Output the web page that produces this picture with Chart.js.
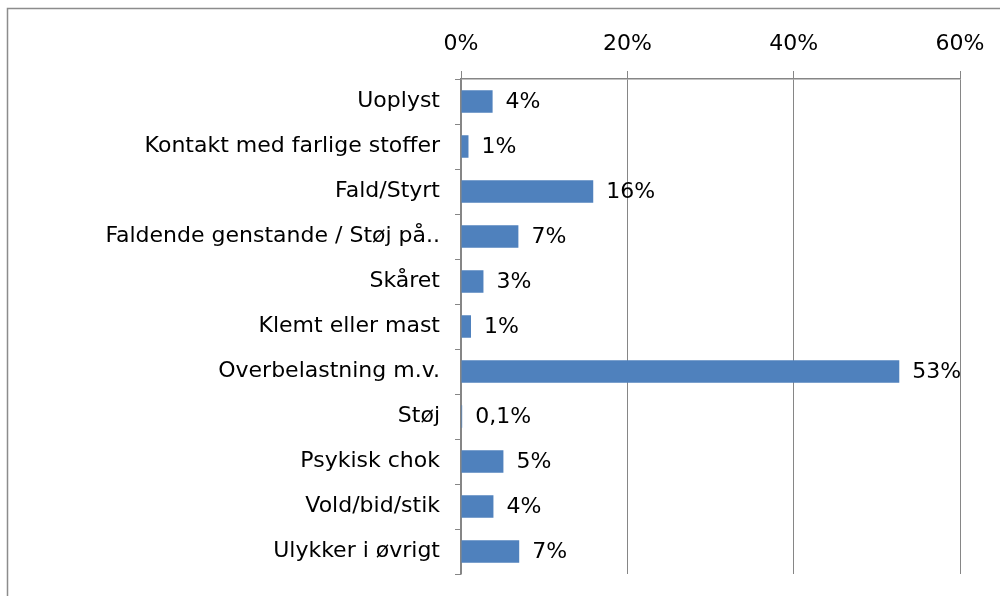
<!DOCTYPE html>
<html>
<head>
<meta charset="utf-8">
<script src="https://cdn.jsdelivr.net/npm/chart.js@4"></script>
<style>
  html, body { margin: 0; padding: 0; background: #fff; }
  #wrap { position: relative; width: 1000px; height: 596px; }
</style>
</head>
<body>
<div id="wrap"><canvas id="c" width="1000" height="596"></canvas></div>
<script>
const categories = [
  'Uoplyst',
  'Kontakt med farlige stoffer',
  'Fald/Styrt',
  'Faldende genstande / Støj på..',
  'Skåret',
  'Klemt eller mast',
  'Overbelastning m.v.',
  'Støj',
  'Psykisk chok',
  'Vold/bid/stik',
  'Ulykker i øvrigt'
];
const shares = [3.8, 0.9, 15.9, 6.9, 2.7, 1.2, 52.7, 0.14, 5.1, 3.9, 7.0];
const xTicks = [0, 20, 40, 60];

const FONT = 'DejaVu Sans';
const GRID = '#868686';

function fmt(v) {
  return v < 0.5 ? v.toFixed(1).replace('.', ',') + '%' : Math.round(v) + '%';
}

const framePlugin = {
  id: 'frame',
  beforeDraw(chart) {
    const ctx = chart.ctx;
    ctx.save();
    ctx.strokeStyle = '#8c8c8c';
    ctx.lineWidth = 1.5;
    ctx.beginPath();
    ctx.moveTo(7.5, 600);
    ctx.lineTo(7.5, 8.5);
    ctx.lineTo(1010, 8.5);
    ctx.stroke();
    ctx.restore();
  }
};

const valueLabels = {
  id: 'valueLabels',
  afterDatasetsDraw(chart) {
    const ctx = chart.ctx;
    const meta = chart.getDatasetMeta(0);
    ctx.save();
    ctx.font = '22px "' + FONT + '"';
    ctx.fillStyle = '#000';
    ctx.textAlign = 'left';
    ctx.textBaseline = 'middle';
    meta.data.forEach((bar, i) => {
      ctx.fillText(fmt(shares[i]), bar.x + 13, bar.y + 1);
    });
    ctx.restore();
  }
};

new Chart(document.getElementById('c'), {
  type: 'bar',
  data: {
    labels: categories,
    datasets: [{
      data: shares,
      backgroundColor: '#4F81BD',
      borderWidth: 0,
      categoryPercentage: 1.0,
      barPercentage: 0.5
    }]
  },
  options: {
    indexAxis: 'y',
    responsive: false,
    animation: false,
    devicePixelRatio: 1,
    layout: { padding: { left: 0, top: 0, right: 40, bottom: 22 } },
    plugins: { legend: { display: false }, tooltip: { enabled: false } },
    scales: {
      x: {
        position: 'top',
        min: 0,
        max: 60,
        afterBuildTicks(scale) { scale.ticks = xTicks.map(v => ({ value: v })); },
        afterFit(scale) { scale.height = 79; },
        ticks: {
          callback: v => v + '%',
          color: '#000',
          font: { family: FONT, size: 22 },
          padding: 14,
          maxRotation: 0
        },
        grid: { color: GRID, lineWidth: 1, tickLength: 8 },
        border: { color: GRID, width: 1.5 }
      },
      y: {
        afterFit(scale) {
          scale.width = 461;
          scale.paddingTop = 0;
          scale.paddingBottom = 0;
        },
        ticks: {
          color: '#000',
          font: { family: FONT, size: 22 },
          padding: 15,
          autoSkip: false
        },
        grid: { drawOnChartArea: false, color: GRID, tickLength: 6, offset: true },
        border: { color: GRID, width: 1.5 }
      }
    }
  },
  plugins: [framePlugin, valueLabels]
});
</script>
</body>
</html>
